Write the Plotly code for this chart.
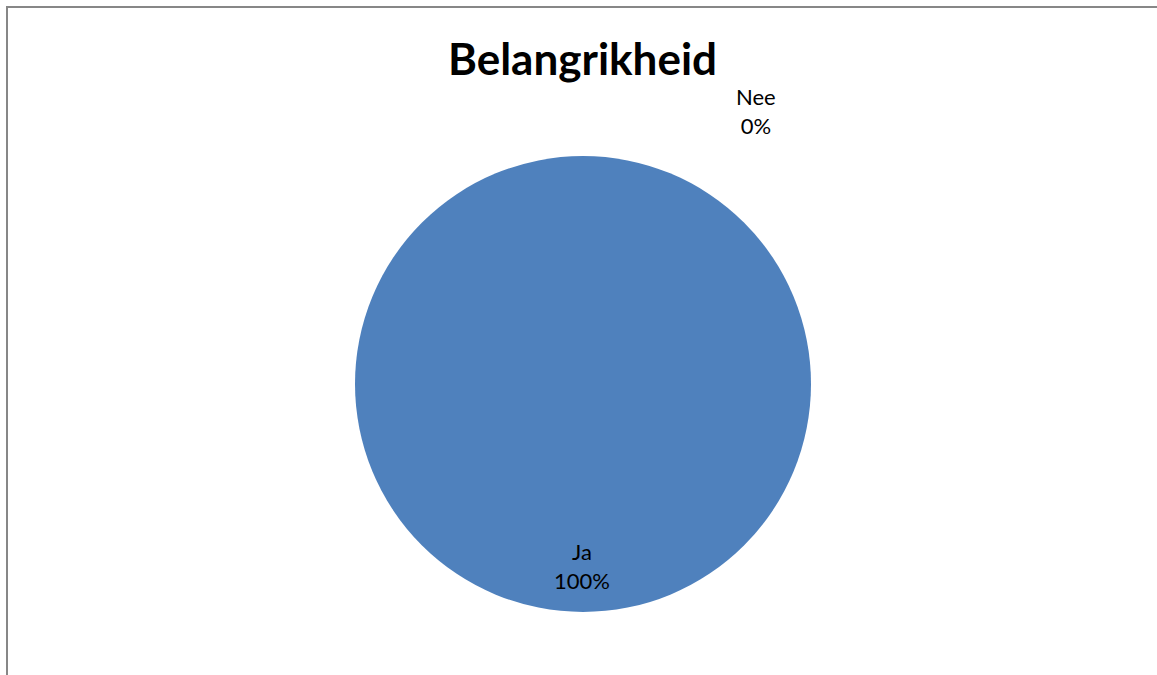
import plotly.graph_objects as go

title_text = "Belangrikheid"
labels = ["Ja", "Nee"]
values = [100, 0]
colors = ["#4F81BD", "#C0504D"]

W, H = 1157, 675
total = sum(values)
pcts = [round(v / total * 100) for v in values]

fig = go.Figure()
fig.add_trace(go.Pie(
    labels=labels,
    values=values,
    marker=dict(colors=colors, line=dict(width=0)),
    textinfo="none",
    hoverinfo="label+percent",
    sort=False,
    direction="clockwise",
    rotation=90,
    showlegend=False,
    domain=dict(x=[(583 - 228) / W, (583 + 228) / W], y=[(H - 612) / H, (H - 156) / H]),
))

# data label positions (paper coords)
label_pos = {"Ja": (582 / W, 1 - 566 / H), "Nee": (756 / W, 1 - 111 / H)}
annotations = []
for lab, p in zip(labels, pcts):
    x, y = label_pos[lab]
    annotations.append(dict(
        x=x, y=y, xref="paper", yref="paper", showarrow=False,
        text=f"{lab}<br>{p}%", align="center",
        font=dict(family="Lato, Open Sans, sans-serif", size=22, color="#000000"),
        xanchor="center", yanchor="middle",
    ))
annotations.append(dict(
    x=582 / W, y=1 - 58 / H, xref="paper", yref="paper", showarrow=False,
    text=f"<b>{title_text}</b>",
    font=dict(family="Lato, Open Sans, sans-serif", size=44, color="#000000"),
    xanchor="center", yanchor="middle",
))

shapes = [
    dict(type="line", xref="paper", yref="paper", x0=7 / W, x1=7 / W, y0=0, y1=1 - 7 / H,
         line=dict(color="#878787", width=2)),
    dict(type="line", xref="paper", yref="paper", x0=6 / W, x1=1, y0=1 - 7 / H, y1=1 - 7 / H,
         line=dict(color="#878787", width=2)),
]

fig.update_layout(
    width=W, height=H,
    margin=dict(l=0, r=0, t=0, b=0),
    paper_bgcolor="white", plot_bgcolor="white",
    annotations=annotations,
    shapes=shapes,
)

fig.write_html(
    "out.html",
    config={"displayModeBar": False},
    post_script="document.body.style.margin='0';document.body.style.overflow='hidden';",
)
